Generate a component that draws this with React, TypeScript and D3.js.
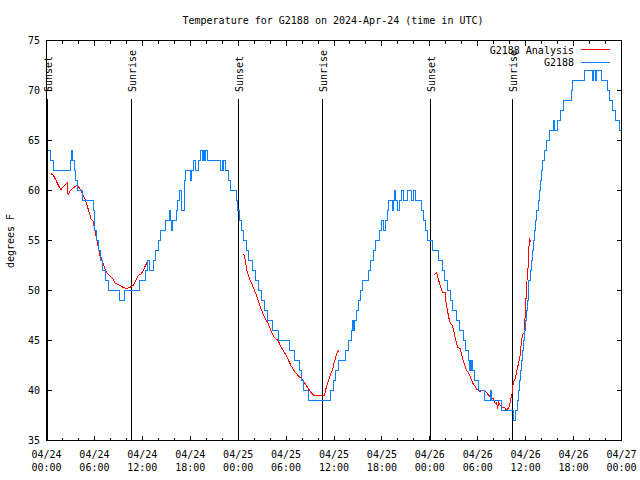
import React from "react";
import * as d3 from "d3";

const TITLE = "Temperature for G2188 on 2024-Apr-24 (time in UTC)";
const Y_LABEL = "degrees F";

const yTicks = [35, 40, 45, 50, 55, 60, 65, 70, 75];
const xTickHours = [0, 6, 12, 18, 24, 30, 36, 42, 48, 54, 60, 66, 72];
const xTickDates = ["04/24", "04/24", "04/24", "04/24", "04/25", "04/25", "04/25", "04/25", "04/26", "04/26", "04/26", "04/26", "04/27"];
const xTickTimes = ["00:00", "06:00", "12:00", "18:00", "00:00", "06:00", "12:00", "18:00", "00:00", "06:00", "12:00", "18:00", "00:00"];

const sunsetHours = [0, 23.98, 47.98];
const sunriseHours = [10.6, 34.48, 58.35];

// Observed (G2188), hours since 04/24 00:00 UTC -> deg F (value held until next entry)
const blueObs: [number, number][] = [
  [0.15, 64], [0.5, 63], [0.85, 62], [2.95, 63], [3.1, 64], [3.3, 63], [3.5, 62], [3.65, 61], [3.9, 60],
  [4.5, 59], [5.85, 58], [5.95, 57], [6.05, 56], [6.2, 55], [6.45, 54], [6.8, 53], [7.05, 52], [7.4, 51],
  [7.8, 50], [9.2, 49], [9.8, 50], [11.6, 51], [12.4, 52], [12.7, 53], [12.85, 52], [13.35, 53], [13.7, 54],
  [14.0, 55], [14.25, 56], [14.9, 57], [15.35, 58], [15.55, 57], [15.65, 56], [15.8, 57], [16.3, 58],
  [16.45, 59], [16.65, 60], [16.85, 58], [17.25, 61], [17.35, 62], [18.0, 61], [18.2, 62], [18.45, 63],
  [18.6, 62], [19.0, 63], [19.3, 64], [19.5, 63], [19.65, 64], [19.8, 63], [19.9, 64], [20.1, 63],
  [21.8, 62], [22.0, 63], [22.1, 62], [22.2, 63], [22.4, 62], [22.75, 61], [23.05, 60], [23.8, 59],
  [23.95, 58], [24.15, 57], [24.4, 56], [24.65, 55], [25.0, 54], [25.35, 53], [25.8, 52], [26.15, 51],
  [26.55, 50], [26.9, 49], [27.3, 48], [27.65, 47], [28.3, 46], [29.05, 45], [30.4, 44], [31.1, 43],
  [31.65, 42], [31.9, 41], [32.2, 40], [32.75, 39], [35.6, 40], [35.95, 41], [36.2, 42], [36.55, 43],
  [37.4, 44], [37.8, 45], [38.2, 46], [38.35, 47], [38.5, 46], [38.6, 47], [38.8, 48], [39.1, 49],
  [39.35, 50], [39.6, 51], [40.3, 52], [40.6, 53], [40.95, 54], [41.25, 55], [41.75, 56], [42.0, 57],
  [42.2, 56], [42.45, 57], [42.7, 58], [42.85, 59], [43.3, 58], [43.45, 59], [43.6, 60], [43.75, 59],
  [44.0, 58], [44.2, 59], [44.5, 60], [44.75, 59], [45.15, 60], [45.75, 59], [45.9, 60], [46.2, 59],
  [47.0, 58], [47.25, 57], [47.45, 56], [47.75, 55], [48.3, 54], [49.05, 53], [49.55, 52], [49.85, 51],
  [50.2, 50], [50.6, 49], [50.9, 48], [51.3, 47], [51.75, 46], [52.2, 45], [52.5, 44], [52.9, 43],
  [53.0, 42], [53.1, 43], [53.15, 42], [53.25, 43], [53.35, 42], [53.65, 41], [54.15, 40], [54.85, 39],
  [55.65, 40], [55.75, 39], [57.0, 38], [58.45, 37], [58.75, 38], [58.95, 39], [59.1, 40], [59.25, 41],
  [59.35, 42], [59.5, 43], [59.65, 44], [59.75, 45], [59.9, 46], [60.0, 47], [60.15, 48], [60.2, 49],
  [60.3, 50], [60.4, 51], [60.6, 52], [60.75, 53], [60.85, 54], [61.0, 55], [61.15, 56], [61.25, 57],
  [61.4, 58], [61.55, 59], [61.7, 60], [61.8, 61], [61.95, 62], [62.1, 63], [62.3, 64], [62.65, 65],
  [62.95, 66], [63.45, 67], [63.65, 66], [63.95, 67], [64.35, 68], [64.75, 69], [65.75, 70], [65.9, 71],
  [67.4, 72], [68.35, 71], [68.45, 72], [68.7, 71], [68.85, 72], [69.5, 71], [70.3, 70], [70.5, 69],
  [70.85, 68], [71.25, 67], [71.7, 66], [72.0, 66],
];

// Analysis (G2188 Analysis), three runs
const redSeg1: [number, number][] = [
  [0.55, 61.67], [0.8, 61.6], [1.2, 61.0], [1.5, 60.5], [1.8, 60.07], [2.1, 60.4], [2.6, 60.8], [2.7, 59.6],
  [3.0, 60.0], [3.4, 60.3], [3.8, 60.5], [4.1, 60.3], [4.4, 59.8], [4.8, 59.2], [5.2, 58.2], [5.6, 57.1],
  [5.8, 57.0], [6.0, 56.3], [6.2, 55.5], [6.4, 54.7], [6.55, 54.0], [6.7, 53.5], [6.9, 53.2], [7.1, 52.7],
  [7.3, 52.2], [7.6, 51.7], [7.9, 51.5], [8.3, 51.2], [8.6, 50.7], [9.0, 50.6], [9.6, 50.3], [10.0, 50.2],
  [10.4, 50.3], [10.85, 50.5], [11.2, 51.0], [11.5, 51.5], [11.9, 51.7], [12.1, 52.0], [12.4, 52.5], [12.7, 53.0],
];
const redSeg2: [number, number][] = [
  [24.7, 53.7], [24.9, 53.0], [25.1, 52.0], [25.4, 51.2], [25.7, 50.7], [25.9, 50.3], [26.2, 49.7], [26.5, 49.0],
  [26.8, 48.3], [27.3, 47.3], [27.7, 46.8], [28.1, 46.0], [28.5, 45.3], [29.0, 45.0], [29.4, 44.3], [29.8, 43.8],
  [30.2, 43.2], [30.6, 42.5], [31.0, 42.0], [31.5, 41.5], [31.9, 41.2], [32.3, 40.8], [32.7, 40.3], [33.1, 39.8],
  [33.5, 39.5], [34.8, 39.5], [35.0, 40.2], [35.2, 40.7], [35.4, 41.2], [35.6, 41.7], [35.8, 42.0], [36.0, 42.7],
  [36.2, 43.3], [36.4, 43.8], [36.65, 44.0],
];
const redSeg3: [number, number][] = [
  [48.55, 51.6], [48.85, 51.8], [49.0, 51.3], [49.3, 50.5], [49.6, 49.8], [49.9, 49.8], [50.0, 49.0], [50.2, 48.0],
  [50.4, 47.2], [50.6, 46.7], [50.8, 46.5], [51.0, 46.0], [51.2, 45.2], [51.5, 44.3], [51.8, 44.2], [52.0, 43.5],
  [52.3, 42.7], [52.6, 42.0], [52.9, 41.7], [53.1, 41.3], [53.4, 40.7], [53.6, 40.5], [53.8, 40.2], [54.2, 39.9],
  [54.5, 40.0], [54.8, 40.0], [55.1, 39.8], [55.4, 39.5], [55.7, 39.3], [55.95, 39.2], [56.2, 38.7], [56.35, 38.8],
  [56.5, 38.2], [56.6, 38.8], [56.8, 38.5], [57.1, 38.3], [57.4, 38.3], [57.6, 38.0], [57.9, 38.3], [58.1, 39.0],
  [58.3, 39.7], [58.4, 40.5], [58.55, 41.0], [58.7, 41.2], [58.9, 42.0], [59.1, 42.7], [59.3, 43.5], [59.45, 44.7],
  [59.6, 45.6], [59.8, 45.7], [60.0, 48.3], [60.1, 50.3], [60.3, 52.3], [60.4, 54.3], [60.5, 55.2], [60.6, 54.8],
];
const redSegments = [redSeg1, redSeg2, redSeg3];

const RED = "#ff0000";
const BLUE = "#0a80ff";
const FONT = "'DejaVu Sans Mono', 'Liberation Mono', monospace";

export default function App() {
  const W = 640, H = 480;
  const left = 46.5, right = 621.5, top = 40.5, bottom = 440.5;
  const x = d3.scaleLinear().domain([0, 72]).range([left, right]);
  const y = d3.scaleLinear().domain([35, 75]).range([bottom, top]);

  const redLine = d3.line<[number, number]>().x(d => x(d[0])).y(d => y(d[1]));
  const blueLine = d3.line<[number, number]>().x(d => x(d[0])).y(d => y(d[1])).curve(d3.curveStepAfter);

  const minorHours = d3.range(0, 73, 2).filter(h => h % 6 !== 0);
  const lineTop = 99;

  return (
    <svg width={W} height={H} style={{ position: "absolute", left: 0, top: 0, background: "#fff" }}
      fontFamily={FONT} fontSize={10}>
      <rect x={0} y={0} width={W} height={H} fill="#fff" />
      <text x={333} y={24} textAnchor="middle">{TITLE}</text>

      {/* sun lines */}
      {sunsetHours.map((h, i) => (
        <g key={"ss" + i}>
          <line x1={Math.round(x(h)) + 0.5} x2={Math.round(x(h)) + 0.5} y1={lineTop} y2={bottom} stroke="#000" shapeRendering="crispEdges" />
          <text transform={`translate(${x(h) + 5},92) rotate(-90)`} textAnchor="start">Sunset</text>
        </g>
      ))}
      {sunriseHours.map((h, i) => (
        <g key={"sr" + i}>
          <line x1={Math.round(x(h)) + 0.5} x2={Math.round(x(h)) + 0.5} y1={lineTop} y2={bottom} stroke="#000" shapeRendering="crispEdges" />
          <text transform={`translate(${x(h) + 5},92) rotate(-90)`} textAnchor="start">Sunrise</text>
        </g>
      ))}

      {/* data */}
      {redSegments.map((seg, i) => (
        <path key={"r" + i} d={redLine(seg) || ""} fill="none" stroke={RED} strokeWidth={1} shapeRendering="crispEdges" />
      ))}
      <path d={blueLine(blueObs) || ""} fill="none" stroke={BLUE} strokeWidth={1} shapeRendering="crispEdges" />

      {/* frame */}
      <rect x={left} y={top} width={right - left} height={bottom - top} fill="none" stroke="#000" shapeRendering="crispEdges" />

      {/* y ticks */}
      {yTicks.map(v => (
        <g key={"y" + v}>
          <line x1={left} x2={left + 5} y1={y(v)} y2={y(v)} stroke="#000" shapeRendering="crispEdges" />
          <line x1={right - 5} x2={right} y1={y(v)} y2={y(v)} stroke="#000" shapeRendering="crispEdges" />
          <text x={40} y={y(v) + 3.5} textAnchor="end">{v}</text>
        </g>
      ))}

      {/* x ticks */}
      {xTickHours.map((h, i) => (
        <g key={"x" + h}>
          <line x1={x(h)} x2={x(h)} y1={bottom} y2={bottom - 5} stroke="#000" shapeRendering="crispEdges" />
          <line x1={x(h)} x2={x(h)} y1={top} y2={top + 5} stroke="#000" shapeRendering="crispEdges" />
          <text x={x(h)} y={458} textAnchor="middle">{xTickDates[i]}</text>
          <text x={x(h)} y={470.5} textAnchor="middle">{xTickTimes[i]}</text>
        </g>
      ))}
      {minorHours.map(h => (
        <g key={"m" + h}>
          <line x1={x(h)} x2={x(h)} y1={bottom} y2={bottom - 3} stroke="#000" shapeRendering="crispEdges" />
          <line x1={x(h)} x2={x(h)} y1={top} y2={top + 3} stroke="#000" shapeRendering="crispEdges" />
        </g>
      ))}

      <text transform="translate(14,241) rotate(-90)" textAnchor="middle">{Y_LABEL}</text>

      {/* legend */}
      <text x={574} y={53.5} textAnchor="end">G2188 Analysis</text>
      <line x1={581} x2={610} y1={49.5} y2={49.5} stroke={RED} shapeRendering="crispEdges" />
      <text x={574} y={66} textAnchor="end">G2188</text>
      <line x1={581} x2={610} y1={62.5} y2={62.5} stroke={BLUE} shapeRendering="crispEdges" />
    </svg>
  );
}
